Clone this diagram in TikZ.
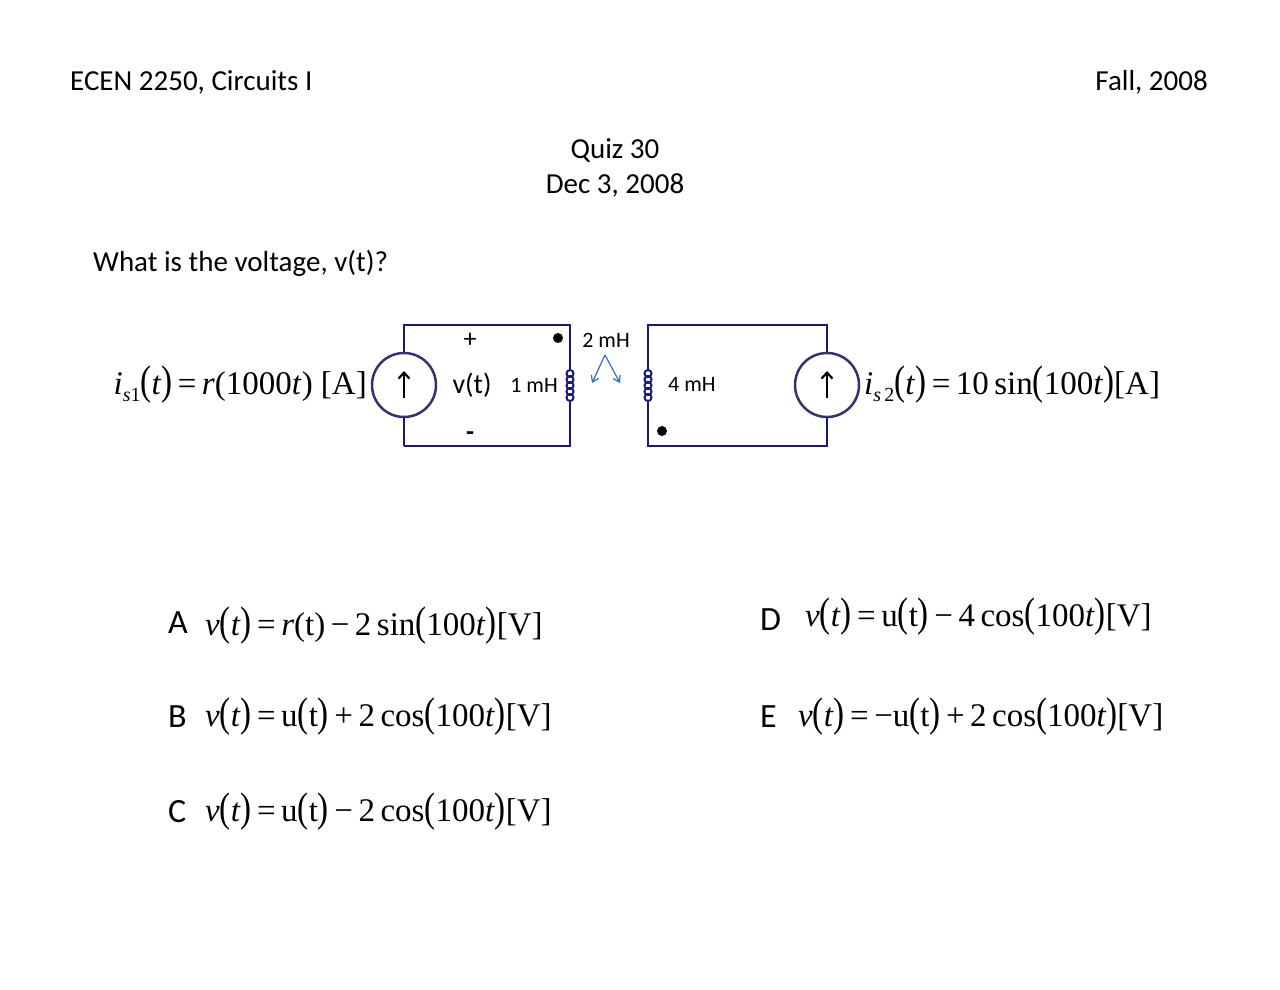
\documentclass[tikz,border=0pt]{standalone}
\usepackage{fontspec}
\setmainfont{Carlito}
\newfontfamily\tms{Liberation Serif}
\usetikzlibrary{arrows.meta}
\newcommand{\iv}[1]{\textit{#1}}
\newcommand{\bp}[1]{\scalebox{1}[1.25]{#1}}
\begin{document}
\begin{tikzpicture}[x=1pt,y=-1pt,
  wire/.style={draw=blue!40!black!90, line width=2pt},
  src/.style={circle, draw=blue!30!black!80!white, line width=2.5pt, minimum size=64pt, inner sep=0pt, fill=white},
  lbl/.style={font=\fontsize{22}{24}\selectfont, inner sep=0pt},
  big/.style={font=\fontsize{29}{32}\selectfont, inner sep=0pt},
  opt/.style={font=\fontsize{34}{36}\selectfont, inner sep=0pt, anchor=west},
  eq/.style={font=\tms\fontsize{33}{36}\selectfont, inner sep=0pt},
  dotm/.style={circle, fill=black, minimum size=10pt, inner sep=0pt},
  coil/.style={draw=blue!40!black!90, line width=2pt}]
\useasboundingbox (0,0) rectangle (1280,989);
\node[big, anchor=west] (h1) at (70,82) {ECEN 2250, Circuits I};
\node[big, anchor=east] (h2) at (1208,82) {Fall, 2008};
\node[big] (q1) at (615,150) {Quiz 30};
\node[big] (q2) at (615,185) {Dec 3, 2008};
\node[big, anchor=west] (qq) at (93,263) {What is the voltage, v(t)?};
\coordinate (a1) at (404,325); \coordinate (a2) at (570,325);
\coordinate (a3) at (570,446); \coordinate (a4) at (404,446);
\coordinate (l1t) at (570,370); \coordinate (l1b) at (570,400);
\draw[wire] (a4) -- (a1) -- (a2) -- (l1t);
\draw[wire] (l1b) -- (a3) -- (a4);
\coordinate (b1) at (648,325); \coordinate (b2) at (827,325);
\coordinate (b3) at (827,446); \coordinate (b4) at (648,446);
\coordinate (l2t) at (648,370); \coordinate (l2b) at (648,400);
\draw[wire] (l2t) -- (b1) -- (b2) -- (b3) -- (b4) -- (l2b);
\foreach \yy in {373.5,379.5,385.5,391.5,397.5}{
  \draw[coil] (570,\yy) ellipse (3.5pt and 3.5pt);
  \draw[coil] (648,\yy) ellipse (3.5pt and 3.5pt);
}
\node[src] (s1) at (404,385) {};
\draw[line width=2.2pt, -{Straight Barb[length=6pt,width=11pt]}] (404,398) -- (404,371);
\node[src] (s2) at (827,385) {};
\draw[line width=2.2pt, -{Straight Barb[length=6pt,width=11pt]}] (827,398) -- (827,371);
\node[dotm] (d1) at (558,338) {};
\node[dotm] (d2) at (662,431) {};
\node[lbl, font=\fontsize{26}{28}\selectfont] (pl) at (470,340) {+};
\node[lbl, font=\bfseries\fontsize{26}{28}\selectfont] (mi) at (470,436) {-};
\node[lbl, font=\fontsize{28}{30}\selectfont] (vt) at (472,385) {v(t)};
\node[lbl] (L1) at (534,385) {1 mH};
\node[lbl] (M) at (606,340) {2 mH};
\node[lbl, anchor=west] (L2) at (668,384) {4 mH};
\coordinate (mt) at (605,355);
\coordinate (ml) at (592,383);
\coordinate (mr) at (620,383);
\draw[blue!60!cyan!70!black!80, line width=1.2pt, -{Straight Barb[length=6pt,width=8pt]}] (mt) -- (ml);
\draw[blue!60!cyan!70!black!80, line width=1.2pt, -{Straight Barb[length=6pt,width=8pt]}] (mt) -- (mr);
\node[eq, anchor=east] (e1) at (367,385) {\iv{i}\raisebox{-7pt}{\fontsize{20}{22}\selectfont\iv{s}1}\bp{(}\iv{t}\bp{)}\,=\,\iv{r}(1000\iv{t}) [A]};
\node[eq, anchor=west] (e2) at (864,385) {\iv{i}\raisebox{-7pt}{\fontsize{20}{22}\selectfont\iv{s}\,2}\bp{(}\iv{t}\bp{)}\,=\,10\,sin\bp{(}100\iv{t}\bp{)}[A]};
\node[opt] (A) at (168,623) {A};
\node[eq, anchor=west] (eA) at (205,626) {\iv{v}\bp{(}\iv{t}\bp{)}\,=\,\iv{r}(t)\,−\,2\,sin\bp{(}100\iv{t}\bp{)}[V]};
\node[opt] (B) at (168,717) {B};
\node[eq, anchor=west] (eB) at (205,717) {\iv{v}\bp{(}\iv{t}\bp{)}\,=\,u\bp{(}t\bp{)}\,+\,2\,cos\bp{(}100\iv{t}\bp{)}[V]};
\node[opt] (C) at (168,812) {C};
\node[eq, anchor=west] (eC) at (205,812) {\iv{v}\bp{(}\iv{t}\bp{)}\,=\,u\bp{(}t\bp{)}\,−\,2\,cos\bp{(}100\iv{t}\bp{)}[V]};
\node[opt] (D) at (760,620) {D};
\node[eq, anchor=west] (eD) at (805,617) {\iv{v}\bp{(}\iv{t}\bp{)}\,=\,u\bp{(}t\bp{)}\,−\,4\,cos\bp{(}100\iv{t}\bp{)}[V]};
\node[opt] (E) at (760,717) {E};
\node[eq, anchor=west] (eE) at (798,717) {\iv{v}\bp{(}\iv{t}\bp{)}\,=\,−u\bp{(}t\bp{)}\,+\,2\,cos\bp{(}100\iv{t}\bp{)}[V]};
\end{tikzpicture}
\end{document}
